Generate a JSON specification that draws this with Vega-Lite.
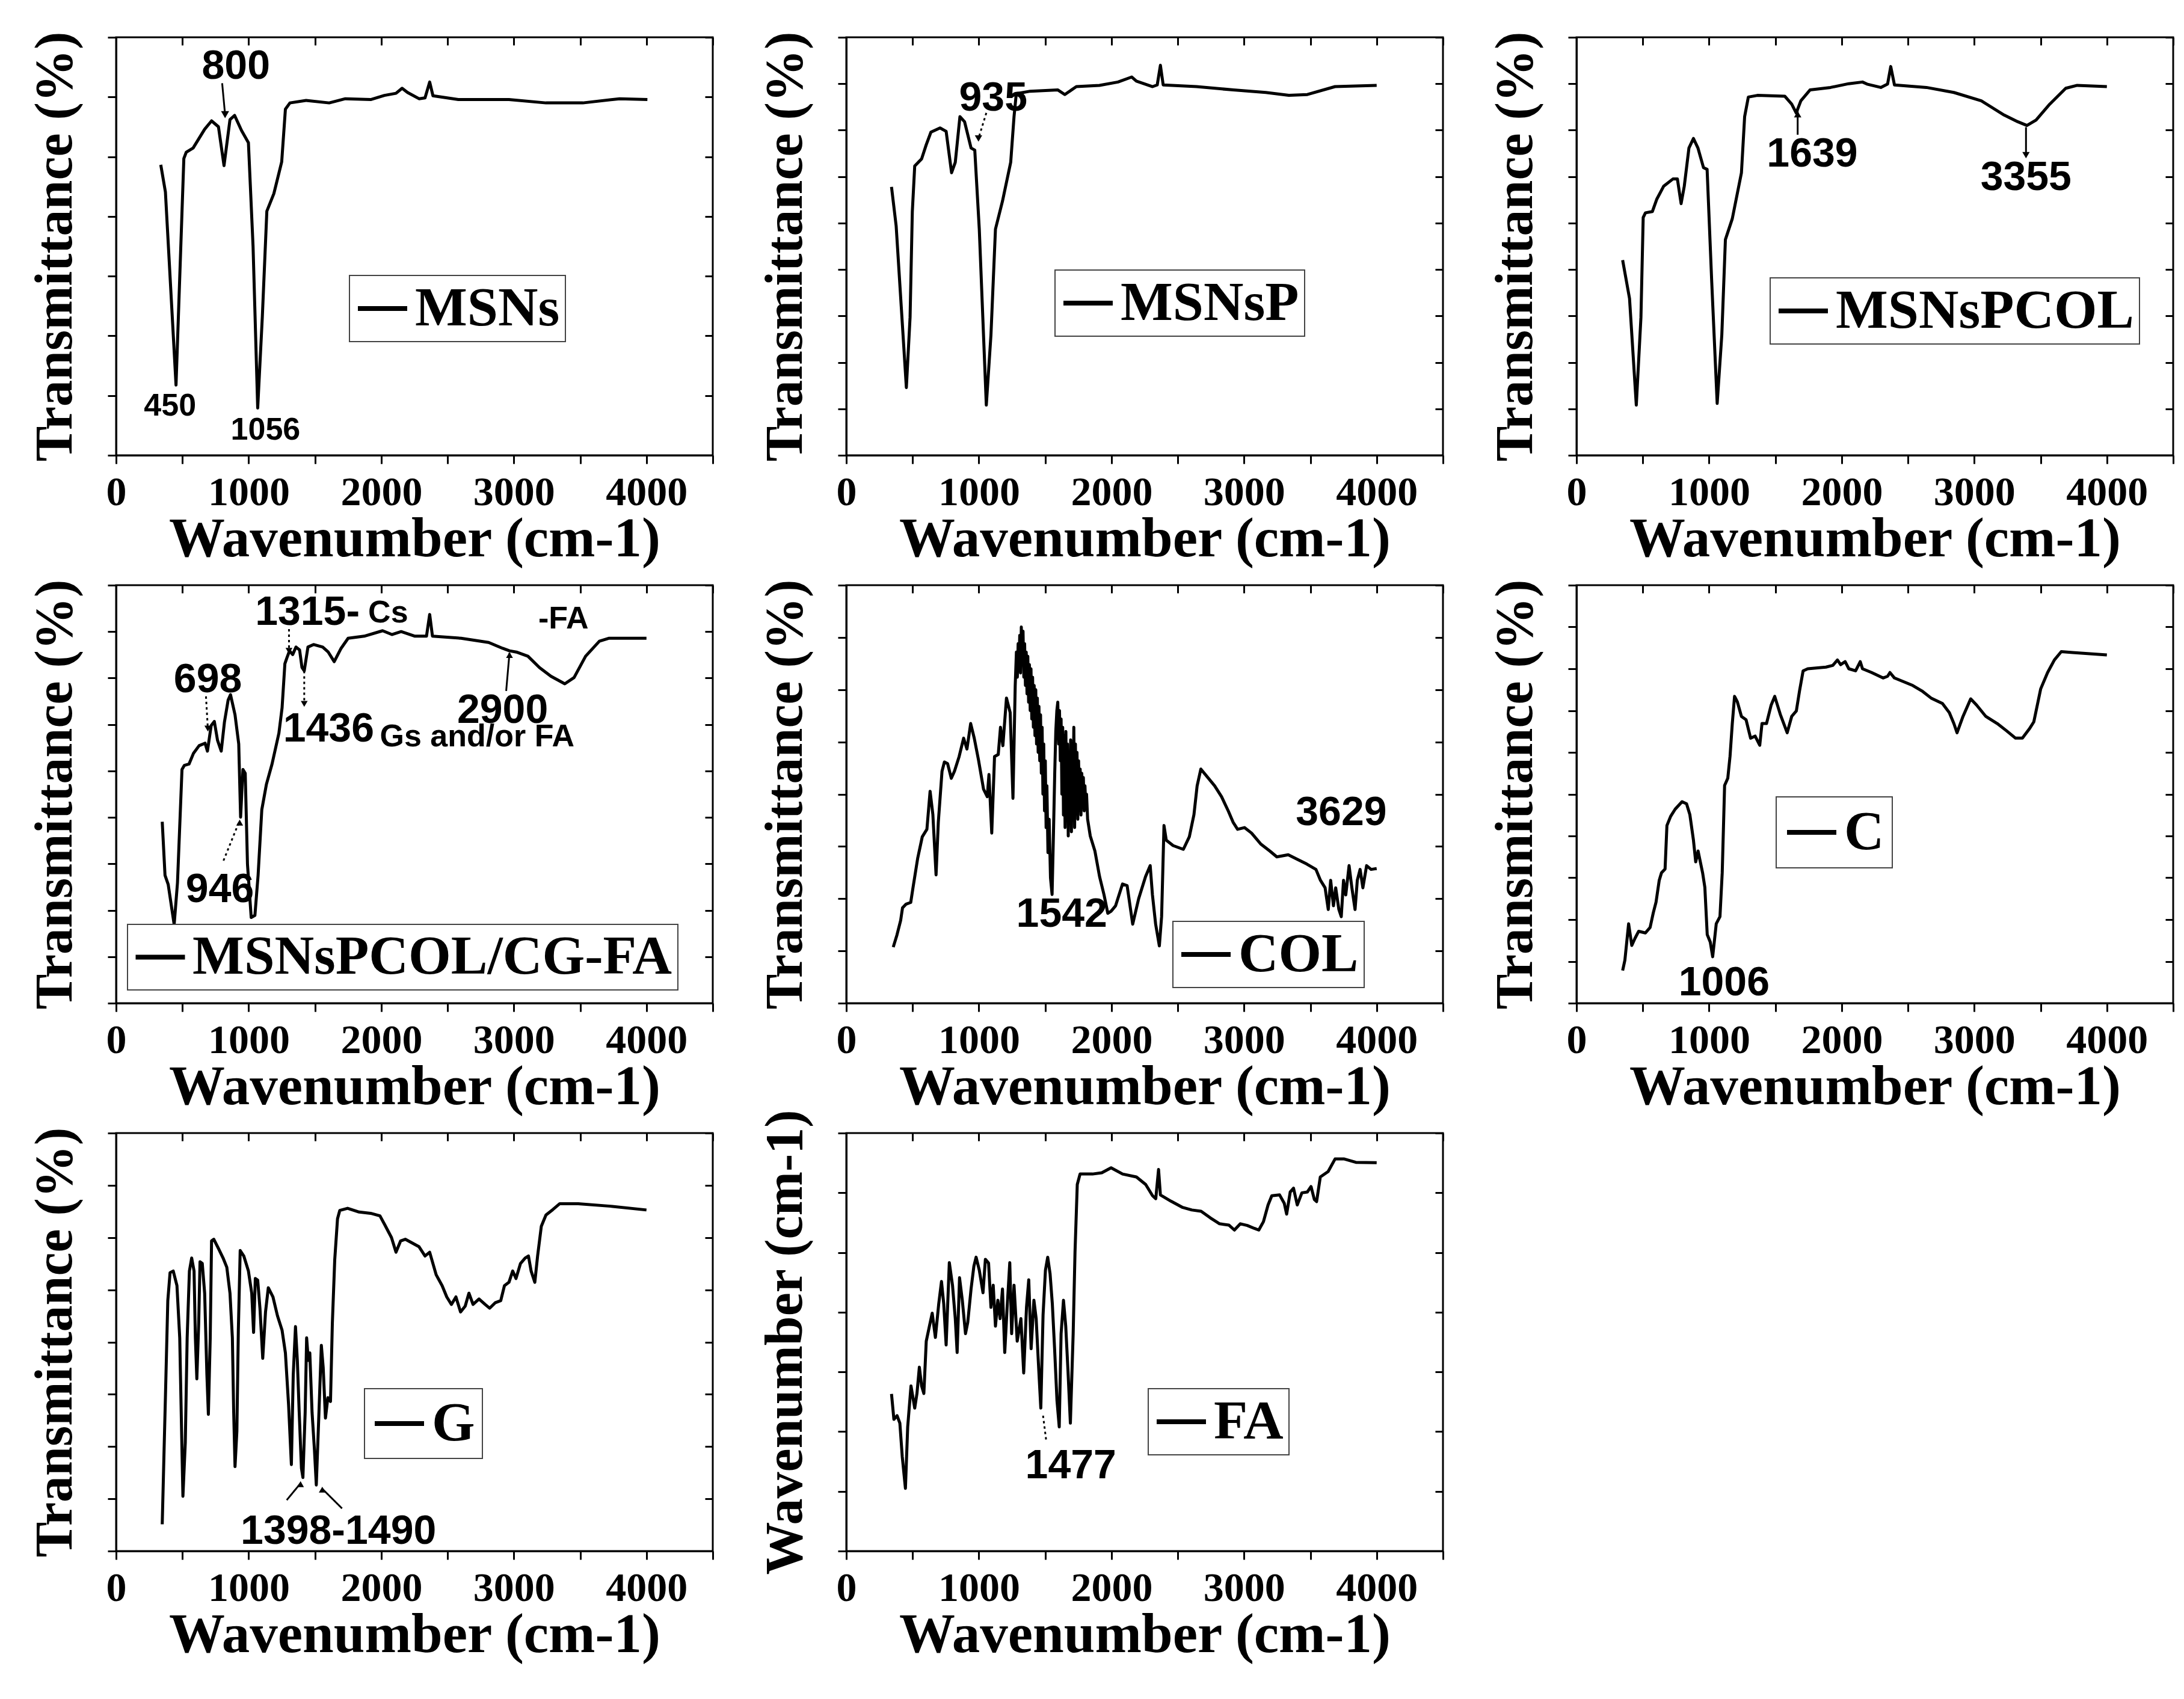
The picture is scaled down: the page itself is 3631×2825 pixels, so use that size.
{
"$schema": "https://vega.github.io/schema/vega-lite/v6.json",
"background": "white",
"padding": {"left": 47, "top": 50, "right": 10, "bottom": 10},
"config": {
 "view": {"stroke": "black", "strokeWidth": 3},
 "axis": {"grid": false, "domainColor": "black", "domainWidth": 3, "tickColor": "black", "tickWidth": 3, "labelFont": "Liberation Serif", "labelFontWeight": "bold", "labelColor": "black", "labelFlush": false, "titleFont": "Liberation Serif", "titleFontWeight": "bold", "titleColor": "black"},
 "axisBottom": {"tickSize": 14, "labelFontSize": 68, "labelPadding": 14, "titleFontSize": 93, "titlePadding": -2},
 "axisLeft": {"tickSize": 14, "labels": false, "titleFontSize": 88, "titlePadding": 41},
 "axisTop": {"tickSize": -13, "labels": false, "domain": false},
 "axisRight": {"tickSize": -13, "labels": false, "domain": false},
 "legend": {"orient": "none", "symbolType": "stroke", "symbolSize": 6724, "symbolStrokeWidth": 8, "labelFont": "Liberation Serif", "labelFontWeight": "bold", "labelFontSize": 92, "labelColor": "black", "labelLimit": 3000, "labelOffset": 8, "padding": 9, "strokeColor": "#444444", "strokeWidth": 2, "fillColor": "white"}
},
"datasets": {
 "MSNs": [{"x":337,"y":69.5},{"x":372,"y":63},{"x":452,"y":16.8},{"x":511,"y":71},{"x":529,"y":72.5},{"x":581,"y":73.5},{"x":668,"y":78},{"x":720,"y":80},{"x":772,"y":78.6},{"x":814,"y":69.3},{"x":859,"y":80.3},{"x":894,"y":81.3},{"x":946,"y":77.7},{"x":998,"y":74.8},{"x":1033,"y":50},{"x":1068,"y":11.3},{"x":1103,"y":33.2},{"x":1137,"y":58.4},{"x":1190,"y":62.6},{"x":1249,"y":70.2},{"x":1277,"y":82.8},{"x":1311,"y":84.3},{"x":1433,"y":84.9},{"x":1607,"y":84.3},{"x":1729,"y":85.3},{"x":1920,"y":85.1},{"x":2024,"y":86.1},{"x":2111,"y":86.6},{"x":2157,"y":87.8},{"x":2198,"y":86.8},{"x":2285,"y":85.3},{"x":2330,"y":85.5},{"x":2365,"y":89.3},{"x":2390,"y":86},{"x":2581,"y":85.1},{"x":2963,"y":85.1},{"x":3242,"y":84.3},{"x":3520,"y":84.3},{"x":3798,"y":85.3},{"x":4007,"y":85.1}],
 "MSNsP": [{"x":341,"y":64.2},{"x":376,"y":54.9},{"x":453,"y":16.2},{"x":481,"y":33},{"x":498,"y":58.3},{"x":516,"y":69.2},{"x":568,"y":70.9},{"x":603,"y":74.3},{"x":638,"y":77.3},{"x":707,"y":78.3},{"x":753,"y":77.5},{"x":794,"y":67.6},{"x":822,"y":70.1},{"x":857,"y":81},{"x":892,"y":79.8},{"x":941,"y":73.5},{"x":969,"y":73},{"x":1003,"y":54.1},{"x":1056,"y":12},{"x":1091,"y":28.8},{"x":1125,"y":54.1},{"x":1178,"y":60.8},{"x":1240,"y":70.1},{"x":1265,"y":81},{"x":1282,"y":86.5},{"x":1387,"y":87.1},{"x":1596,"y":87.4},{"x":1648,"y":86.3},{"x":1735,"y":88.2},{"x":1909,"y":88.5},{"x":2049,"y":89.3},{"x":2153,"y":90.5},{"x":2188,"y":89.5},{"x":2310,"y":88.2},{"x":2345,"y":88.6},{"x":2369,"y":93.3},{"x":2390,"y":88.6},{"x":2641,"y":88.2},{"x":2920,"y":87.4},{"x":3164,"y":86.8},{"x":3338,"y":86.1},{"x":3477,"y":86.3},{"x":3686,"y":88.2},{"x":4000,"y":88.5}],
 "MSNsPCOL": [{"x":348,"y":46.7},{"x":400,"y":37.5},{"x":451,"y":12},{"x":486,"y":33},{"x":503,"y":56.9},{"x":520,"y":58},{"x":572,"y":58.3},{"x":606,"y":61.3},{"x":658,"y":64.4},{"x":727,"y":66.1},{"x":761,"y":66.1},{"x":789,"y":60.2},{"x":813,"y":64.4},{"x":848,"y":73.5},{"x":882,"y":75.8},{"x":916,"y":73.5},{"x":958,"y":68.8},{"x":985,"y":68.4},{"x":1020,"y":41.4},{"x":1061,"y":12.4},{"x":1096,"y":28.8},{"x":1123,"y":51.6},{"x":1175,"y":56.6},{"x":1244,"y":67.6},{"x":1268,"y":81},{"x":1296,"y":85.7},{"x":1364,"y":86.1},{"x":1571,"y":85.9},{"x":1623,"y":84},{"x":1657,"y":81.9},{"x":1692,"y":84.8},{"x":1761,"y":87.4},{"x":1916,"y":88},{"x":2053,"y":88.9},{"x":2157,"y":89.3},{"x":2191,"y":88.8},{"x":2295,"y":88},{"x":2346,"y":88.8},{"x":2370,"y":93},{"x":2398,"y":88.6},{"x":2639,"y":88},{"x":2846,"y":86.8},{"x":3053,"y":84.8},{"x":3225,"y":81.4},{"x":3328,"y":79.8},{"x":3397,"y":78.9},{"x":3466,"y":80.2},{"x":3569,"y":84},{"x":3690,"y":87.8},{"x":3776,"y":88.5},{"x":4000,"y":88.2}],
 "MSNsPCOLCGFA": [{"x":348,"y":43.4},{"x":369,"y":30.6},{"x":393,"y":28.4},{"x":438,"y":18.8},{"x":463,"y":28.8},{"x":497,"y":55.9},{"x":515,"y":56.9},{"x":550,"y":57.2},{"x":584,"y":59.8},{"x":626,"y":61.6},{"x":671,"y":62.2},{"x":689,"y":60.3},{"x":717,"y":66.4},{"x":741,"y":67.4},{"x":765,"y":62.9},{"x":793,"y":60.3},{"x":817,"y":67.2},{"x":845,"y":72.5},{"x":863,"y":73.8},{"x":897,"y":69},{"x":925,"y":62},{"x":939,"y":44.5},{"x":957,"y":55.9},{"x":974,"y":55},{"x":991,"y":33.2},{"x":1019,"y":20.5},{"x":1047,"y":21},{"x":1071,"y":30.6},{"x":1099,"y":46.3},{"x":1134,"y":52.4},{"x":1176,"y":57.2},{"x":1228,"y":64.6},{"x":1252,"y":70.7},{"x":1273,"y":81.2},{"x":1287,"y":82.5},{"x":1308,"y":84.3},{"x":1332,"y":83.4},{"x":1357,"y":85.2},{"x":1384,"y":84.5},{"x":1402,"y":80.3},{"x":1419,"y":79.5},{"x":1447,"y":85.2},{"x":1489,"y":85.8},{"x":1558,"y":85.2},{"x":1600,"y":84},{"x":1645,"y":81.7},{"x":1697,"y":84.9},{"x":1750,"y":87.3},{"x":1871,"y":87.8},{"x":2010,"y":89.1},{"x":2080,"y":88.2},{"x":2150,"y":88.9},{"x":2254,"y":87.8},{"x":2341,"y":87.8},{"x":2365,"y":93},{"x":2386,"y":87.8},{"x":2602,"y":87.3},{"x":2810,"y":86.3},{"x":2915,"y":84.9},{"x":2967,"y":84.3},{"x":3019,"y":84},{"x":3106,"y":83},{"x":3193,"y":80.3},{"x":3280,"y":78.2},{"x":3384,"y":76.4},{"x":3454,"y":77.9},{"x":3541,"y":83},{"x":3645,"y":86.6},{"x":3715,"y":87.3},{"x":4000,"y":87.3}],
 "COL": [{"x":354,"y":13.4},{"x":382,"y":16.3},{"x":410,"y":19.8},{"x":424,"y":22.8},{"x":451,"y":23.7},{"x":486,"y":24.1},{"x":503,"y":27.6},{"x":538,"y":34.6},{"x":573,"y":39.8},{"x":608,"y":41.6},{"x":632,"y":50.7},{"x":653,"y":45.1},{"x":677,"y":30.7},{"x":694,"y":43.3},{"x":722,"y":55.5},{"x":740,"y":57.7},{"x":764,"y":57.3},{"x":792,"y":53.8},{"x":816,"y":55.5},{"x":851,"y":59},{"x":885,"y":63.4},{"x":910,"y":60.8},{"x":938,"y":66.9},{"x":965,"y":63.4},{"x":997,"y":58.2},{"x":1035,"y":51.2},{"x":1063,"y":49.4},{"x":1076,"y":54.7},{"x":1097,"y":40.7},{"x":1118,"y":59},{"x":1146,"y":59.5},{"x":1163,"y":66},{"x":1181,"y":61.6},{"x":1208,"y":73},{"x":1236,"y":69.5},{"x":1257,"y":49},{"x":1274,"y":76},{"x":1283,"y":84},{"x":1290,"y":78},{"x":1296,"y":86},{"x":1302,"y":80},{"x":1308,"y":88},{"x":1314,"y":79},{"x":1320,"y":90},{"x":1326,"y":81},{"x":1333,"y":89},{"x":1339,"y":78},{"x":1345,"y":86},{"x":1351,"y":76},{"x":1357,"y":84},{"x":1363,"y":74},{"x":1369,"y":83},{"x":1375,"y":72},{"x":1381,"y":81},{"x":1387,"y":70},{"x":1393,"y":80},{"x":1399,"y":68},{"x":1405,"y":78},{"x":1411,"y":66},{"x":1417,"y":76},{"x":1423,"y":64},{"x":1429,"y":75},{"x":1435,"y":62},{"x":1441,"y":73},{"x":1447,"y":60},{"x":1453,"y":71},{"x":1459,"y":58},{"x":1465,"y":69},{"x":1471,"y":55},{"x":1477,"y":66},{"x":1483,"y":50},{"x":1489,"y":62},{"x":1495,"y":46},{"x":1501,"y":58},{"x":1507,"y":42},{"x":1513,"y":52},{"x":1521,"y":36},{"x":1530,"y":44},{"x":1540,"y":30},{"x":1552,"y":26},{"x":1562,"y":40},{"x":1572,"y":55},{"x":1580,"y":65},{"x":1588,"y":70},{"x":1595,"y":72},{"x":1602,"y":62},{"x":1608,"y":70},{"x":1614,"y":58},{"x":1620,"y":68},{"x":1626,"y":50},{"x":1632,"y":66},{"x":1638,"y":45},{"x":1644,"y":64},{"x":1650,"y":42},{"x":1656,"y":65},{"x":1662,"y":48},{"x":1668,"y":62},{"x":1674,"y":40},{"x":1680,"y":60},{"x":1686,"y":44},{"x":1692,"y":63},{"x":1698,"y":41},{"x":1704,"y":61},{"x":1710,"y":46},{"x":1716,"y":66},{"x":1722,"y":42},{"x":1728,"y":62},{"x":1734,"y":48},{"x":1740,"y":60},{"x":1746,"y":44},{"x":1752,"y":58},{"x":1758,"y":47},{"x":1764,"y":56},{"x":1770,"y":45},{"x":1776,"y":55},{"x":1782,"y":48},{"x":1788,"y":54},{"x":1794,"y":46},{"x":1800,"y":52},{"x":1806,"y":47},{"x":1812,"y":50},{"x":1820,"y":44},{"x":1830,"y":42},{"x":1840,"y":40},{"x":1875,"y":36.4},{"x":1910,"y":30.3},{"x":1944,"y":25.9},{"x":1972,"y":21.5},{"x":1997,"y":22},{"x":2031,"y":23.3},{"x":2083,"y":28.5},{"x":2118,"y":28.1},{"x":2160,"y":18.9},{"x":2205,"y":25},{"x":2257,"y":30.3},{"x":2292,"y":32.9},{"x":2309,"y":25.9},{"x":2333,"y":18.9},{"x":2361,"y":13.7},{"x":2378,"y":20.7},{"x":2396,"y":42.5},{"x":2413,"y":39},{"x":2465,"y":37.7},{"x":2542,"y":36.8},{"x":2587,"y":39.8},{"x":2622,"y":45.1},{"x":2646,"y":52},{"x":2674,"y":56},{"x":2708,"y":54.7},{"x":2778,"y":52},{"x":2830,"y":49.4},{"x":2882,"y":45.9},{"x":2917,"y":43.3},{"x":2951,"y":41.6},{"x":3003,"y":42},{"x":3056,"y":40.7},{"x":3125,"y":38.1},{"x":3194,"y":36.4},{"x":3247,"y":35},{"x":3333,"y":35.5},{"x":3403,"y":34.4},{"x":3472,"y":33.3},{"x":3542,"y":32},{"x":3576,"y":29.4},{"x":3611,"y":27.6},{"x":3635,"y":22.4},{"x":3653,"y":29.4},{"x":3674,"y":23.3},{"x":3691,"y":27.6},{"x":3715,"y":22.4},{"x":3733,"y":20.7},{"x":3750,"y":29.4},{"x":3767,"y":25.9},{"x":3792,"y":32.9},{"x":3813,"y":27.6},{"x":3837,"y":22.4},{"x":3854,"y":29.4},{"x":3875,"y":32},{"x":3896,"y":27.6},{"x":3924,"y":32.9},{"x":3958,"y":32},{"x":4000,"y":32.2}],
 "C": [{"x":348,"y":7.8},{"x":365,"y":10.3},{"x":393,"y":19},{"x":417,"y":13.8},{"x":441,"y":15.5},{"x":469,"y":17.2},{"x":520,"y":16.8},{"x":555,"y":18.1},{"x":579,"y":21.6},{"x":600,"y":24.2},{"x":624,"y":29.4},{"x":641,"y":31.2},{"x":668,"y":32.1},{"x":682,"y":42.5},{"x":710,"y":44.7},{"x":744,"y":46.4},{"x":796,"y":48.2},{"x":830,"y":47.7},{"x":855,"y":45.1},{"x":882,"y":39},{"x":899,"y":33.8},{"x":917,"y":36.4},{"x":951,"y":31.2},{"x":968,"y":27.7},{"x":986,"y":16.4},{"x":1009,"y":14.6},{"x":1027,"y":11.1},{"x":1054,"y":19},{"x":1082,"y":20.7},{"x":1099,"y":31.2},{"x":1117,"y":52.1},{"x":1141,"y":53.8},{"x":1158,"y":59.1},{"x":1175,"y":66.9},{"x":1192,"y":73.4},{"x":1213,"y":72.1},{"x":1244,"y":68.6},{"x":1279,"y":67.8},{"x":1313,"y":63.4},{"x":1347,"y":63.9},{"x":1382,"y":61.7},{"x":1399,"y":66.9},{"x":1433,"y":66.9},{"x":1468,"y":71.3},{"x":1495,"y":73.4},{"x":1537,"y":69.1},{"x":1589,"y":64.7},{"x":1623,"y":68.6},{"x":1658,"y":69.9},{"x":1682,"y":74.7},{"x":1709,"y":79.5},{"x":1744,"y":80},{"x":1881,"y":80.4},{"x":1933,"y":80.8},{"x":1968,"y":82.1},{"x":1992,"y":81},{"x":2026,"y":81.7},{"x":2054,"y":80},{"x":2105,"y":79.5},{"x":2140,"y":81.7},{"x":2157,"y":80},{"x":2226,"y":79.1},{"x":2312,"y":77.8},{"x":2346,"y":78.2},{"x":2364,"y":79.1},{"x":2398,"y":77.8},{"x":2536,"y":76},{"x":2605,"y":74.7},{"x":2674,"y":73},{"x":2760,"y":71.7},{"x":2812,"y":69.5},{"x":2846,"y":66.9},{"x":2870,"y":64.7},{"x":2915,"y":68.6},{"x":2973,"y":72.8},{"x":3018,"y":71.3},{"x":3087,"y":68.6},{"x":3173,"y":66.9},{"x":3242,"y":65.2},{"x":3311,"y":63.4},{"x":3363,"y":63.4},{"x":3415,"y":65.6},{"x":3449,"y":67.3},{"x":3501,"y":75.2},{"x":3553,"y":79.1},{"x":3604,"y":82.1},{"x":3656,"y":84.1},{"x":3742,"y":83.9},{"x":4000,"y":83.3}],
 "G": [{"x":348,"y":6.4},{"x":362,"y":24.2},{"x":372,"y":36.7},{"x":390,"y":59.9},{"x":407,"y":66.6},{"x":431,"y":67},{"x":459,"y":63.5},{"x":480,"y":51},{"x":494,"y":28.7},{"x":504,"y":13.1},{"x":522,"y":26},{"x":536,"y":51},{"x":553,"y":67},{"x":570,"y":70.1},{"x":588,"y":67},{"x":598,"y":51},{"x":609,"y":41.2},{"x":623,"y":54.5},{"x":633,"y":69.2},{"x":650,"y":68.8},{"x":668,"y":61.7},{"x":685,"y":42.1},{"x":696,"y":32.7},{"x":710,"y":51},{"x":720,"y":74.2},{"x":737,"y":74.6},{"x":772,"y":72.4},{"x":807,"y":70.1},{"x":835,"y":67.9},{"x":859,"y":61.7},{"x":877,"y":51},{"x":887,"y":33.2},{"x":897,"y":20.2},{"x":911,"y":28.7},{"x":922,"y":52.8},{"x":936,"y":71.9},{"x":963,"y":70.6},{"x":998,"y":67},{"x":1023,"y":61.7},{"x":1037,"y":52.3},{"x":1050,"y":65.2},{"x":1068,"y":64.8},{"x":1085,"y":58.1},{"x":1106,"y":46.1},{"x":1127,"y":57.2},{"x":1148,"y":63},{"x":1183,"y":60.8},{"x":1217,"y":56.3},{"x":1252,"y":52.8},{"x":1277,"y":47.4},{"x":1301,"y":34.9},{"x":1322,"y":20.7},{"x":1336,"y":42.1},{"x":1353,"y":53.7},{"x":1367,"y":45.6},{"x":1381,"y":33.2},{"x":1398,"y":19.8},{"x":1409,"y":17.6},{"x":1426,"y":33.2},{"x":1437,"y":51},{"x":1450,"y":45.6},{"x":1461,"y":47.4},{"x":1478,"y":33.2},{"x":1496,"y":24.2},{"x":1510,"y":15.8},{"x":1530,"y":33.2},{"x":1548,"y":49.2},{"x":1562,"y":43.9},{"x":1579,"y":31.8},{"x":1597,"y":36.7},{"x":1617,"y":35.8},{"x":1631,"y":54.5},{"x":1649,"y":69.7},{"x":1670,"y":79.5},{"x":1687,"y":81.5},{"x":1746,"y":82},{"x":1833,"y":81.1},{"x":1920,"y":80.8},{"x":1990,"y":80.2},{"x":2024,"y":78.2},{"x":2077,"y":75},{"x":2111,"y":71.5},{"x":2146,"y":74.2},{"x":2181,"y":74.6},{"x":2233,"y":73.7},{"x":2285,"y":72.8},{"x":2330,"y":70.6},{"x":2365,"y":71.5},{"x":2414,"y":66.1},{"x":2459,"y":63.5},{"x":2494,"y":60.8},{"x":2529,"y":59},{"x":2563,"y":60.8},{"x":2598,"y":57.2},{"x":2633,"y":58.6},{"x":2661,"y":61.7},{"x":2692,"y":59},{"x":2737,"y":60.3},{"x":2783,"y":59},{"x":2817,"y":58.1},{"x":2859,"y":59.4},{"x":2901,"y":59.9},{"x":2929,"y":63.5},{"x":2963,"y":64.3},{"x":2991,"y":67},{"x":3016,"y":65.2},{"x":3050,"y":68.8},{"x":3085,"y":70.1},{"x":3110,"y":70.6},{"x":3130,"y":67},{"x":3158,"y":64.3},{"x":3179,"y":70.6},{"x":3207,"y":77.7},{"x":3242,"y":80.4},{"x":3294,"y":81.7},{"x":3346,"y":83.1},{"x":3485,"y":83.1},{"x":3729,"y":82.5},{"x":4000,"y":81.6}],
 "FA": [{"x":341,"y":37.6},{"x":359,"y":31.5},{"x":383,"y":32.4},{"x":404,"y":30.6},{"x":422,"y":22.6},{"x":446,"y":15},{"x":463,"y":29.7},{"x":488,"y":39.5},{"x":516,"y":34.2},{"x":533,"y":37.7},{"x":551,"y":44},{"x":568,"y":39.5},{"x":585,"y":37.7},{"x":603,"y":50.2},{"x":627,"y":53.8},{"x":648,"y":56.9},{"x":672,"y":51.1},{"x":697,"y":59.1},{"x":718,"y":64.5},{"x":735,"y":59.1},{"x":753,"y":49.3},{"x":777,"y":69},{"x":801,"y":63.6},{"x":822,"y":55.6},{"x":836,"y":47.5},{"x":854,"y":65.4},{"x":875,"y":60},{"x":899,"y":52},{"x":916,"y":54.7},{"x":941,"y":62.7},{"x":962,"y":68.1},{"x":979,"y":70.3},{"x":1003,"y":67.2},{"x":1031,"y":61.8},{"x":1049,"y":69.8},{"x":1073,"y":68.9},{"x":1091,"y":58.3},{"x":1108,"y":63.6},{"x":1125,"y":53.8},{"x":1143,"y":60},{"x":1160,"y":55.6},{"x":1178,"y":62.7},{"x":1195,"y":47.5},{"x":1213,"y":58.3},{"x":1233,"y":69},{"x":1247,"y":52},{"x":1265,"y":63.6},{"x":1289,"y":50.2},{"x":1317,"y":55.6},{"x":1338,"y":42.6},{"x":1359,"y":58.3},{"x":1376,"y":64.9},{"x":1394,"y":48.4},{"x":1415,"y":60},{"x":1432,"y":55.6},{"x":1449,"y":44.9},{"x":1467,"y":34.2},{"x":1484,"y":56.5},{"x":1502,"y":67.2},{"x":1519,"y":70.3},{"x":1537,"y":66.3},{"x":1554,"y":59.1},{"x":1571,"y":48.4},{"x":1589,"y":36},{"x":1606,"y":29.7},{"x":1620,"y":52},{"x":1638,"y":60},{"x":1655,"y":53.8},{"x":1672,"y":43.1},{"x":1690,"y":30.6},{"x":1711,"y":52},{"x":1725,"y":71.6},{"x":1742,"y":87.7},{"x":1763,"y":90.2},{"x":1857,"y":90.2},{"x":1927,"y":90.5},{"x":1997,"y":91.7},{"x":2084,"y":90.2},{"x":2188,"y":89.5},{"x":2258,"y":87.7},{"x":2310,"y":85},{"x":2334,"y":84.3},{"x":2355,"y":91.3},{"x":2369,"y":85.2},{"x":2449,"y":83.7},{"x":2537,"y":82.2},{"x":2606,"y":81.6},{"x":2676,"y":81.3},{"x":2746,"y":79.7},{"x":2815,"y":78.3},{"x":2885,"y":78},{"x":2927,"y":76.8},{"x":2972,"y":78.3},{"x":3024,"y":77.9},{"x":3077,"y":77.2},{"x":3111,"y":76.8},{"x":3146,"y":78.8},{"x":3181,"y":82.8},{"x":3209,"y":85},{"x":3268,"y":85.2},{"x":3303,"y":83.2},{"x":3321,"y":80.6},{"x":3348,"y":85.9},{"x":3373,"y":86.8},{"x":3401,"y":82.8},{"x":3436,"y":85.7},{"x":3477,"y":85.9},{"x":3505,"y":87.2},{"x":3530,"y":84.1},{"x":3547,"y":83.6},{"x":3575,"y":89.5},{"x":3634,"y":90.8},{"x":3686,"y":93.8},{"x":3756,"y":93.8},{"x":3843,"y":93},{"x":4000,"y":92.9}]
},
"concat": [
   {"width": 992, "height": 695, "layer": [
    {"data": {"name": "MSNs"}, "mark": {"type": "line", "strokeWidth": 5, "strokeJoin": "round"},
     "encoding": {
      "x": {"field": "x", "type": "quantitative", "scale": {"domain": [0, 4500], "nice": false}, "axis": {"values": [0,500,1000,1500,2000,2500,3000,3500,4000,4500], "labelExpr": "datum.value % 1000 === 0 ? datum.label : ''", "format": "d", "title": "Wavenumber (cm-1)"}},
      "y": {"field": "y", "type": "quantitative", "scale": {"domain": [0, 100], "nice": false}, "axis": {"values": [0,14.286,28.571,42.857,57.143,71.429,85.714,100], "title": "Transmittance (%)"}},
      "color": {"datum": "MSNs", "scale": {"range": ["black"]}, "legend": {"title": null, "legendX": 388, "legendY": 396}}}},
    {"data": {"values": [{"x":904,"y":92.9,"t":"800","k":"big"},{"x":407,"y":11.8,"t":"450","k":"small"},{"x":1127,"y":6.1,"t":"1056","k":"small"}]},
     "mark": {"type": "text", "font": "Liberation Sans", "fontWeight": "bold", "color": "black"},
     "encoding": {
      "x": {"field": "x", "type": "quantitative", "axis": {"orient": "top", "values": [0,500,1000,1500,2000,2500,3000,3500,4000,4500], "title": null}},
      "y": {"field": "y", "type": "quantitative", "axis": {"orient": "right", "values": [0,14.286,28.571,42.857,57.143,71.429,85.714,100], "title": null}},
      "text": {"field": "t"},
      "size": {"field": "k", "type": "nominal", "scale": {"domain": ["big","small"], "range": [68, 52]}, "legend": null}}},
    {"data": {"values": [{"x":800,"y":89,"x2":822,"y2":81.5,"d":"solid"}]},
     "mark": {"type": "rule", "color": "black", "strokeWidth": 3},
     "encoding": {"x": {"field": "x", "type": "quantitative", "axis": null}, "y": {"field": "y", "type": "quantitative", "axis": null}, "x2": {"field": "x2"}, "y2": {"field": "y2"},
      "strokeDash": {"field": "d", "type": "nominal", "scale": {"domain": ["solid","dotted"], "range": [[1,0],[4,5]]}, "legend": null}}},
    {"data": {"values": [{"x":822,"y":81.5,"h":"down"}]},
     "mark": {"type": "point", "filled": true, "color": "black", "size": 180, "opacity": 1},
     "encoding": {"x": {"field": "x", "type": "quantitative", "axis": null}, "y": {"field": "y", "type": "quantitative", "axis": null},
      "shape": {"field": "h", "type": "nominal", "scale": {"domain": ["down","up"], "range": ["triangle-down","triangle-up"]}, "legend": null}}}
   ], "resolve": {"axis": {"x": "independent", "y": "independent"}}},
   {"width": 992, "height": 695, "layer": [
    {"data": {"name": "MSNsP"}, "mark": {"type": "line", "strokeWidth": 5, "strokeJoin": "round"},
     "encoding": {
      "x": {"field": "x", "type": "quantitative", "scale": {"domain": [0, 4500], "nice": false}, "axis": {"values": [0,500,1000,1500,2000,2500,3000,3500,4000,4500], "labelExpr": "datum.value % 1000 === 0 ? datum.label : ''", "format": "d", "title": "Wavenumber (cm-1)"}},
      "y": {"field": "y", "type": "quantitative", "scale": {"domain": [0, 100], "nice": false}, "axis": {"values": [0,11.111,22.222,33.333,44.444,55.556,66.667,77.778,88.889,100], "title": "Transmittance (%)"}},
      "color": {"datum": "MSNsP", "scale": {"range": ["black"]}, "legend": {"title": null, "legendX": 347, "legendY": 387}}}},
    {"data": {"values": [{"x":1108,"y":85.3,"t":"935","k":"big"}]},
     "mark": {"type": "text", "font": "Liberation Sans", "fontWeight": "bold", "color": "black"},
     "encoding": {
      "x": {"field": "x", "type": "quantitative", "axis": {"orient": "top", "values": [0,500,1000,1500,2000,2500,3000,3500,4000,4500], "title": null}},
      "y": {"field": "y", "type": "quantitative", "axis": {"orient": "right", "values": [0,11.111,22.222,33.333,44.444,55.556,66.667,77.778,88.889,100], "title": null}},
      "text": {"field": "t"},
      "size": {"field": "k", "type": "nominal", "scale": {"domain": ["big","small"], "range": [68, 52]}, "legend": null}}},
    {"data": {"values": [{"x":1056,"y":81.9,"x2":997,"y2":75.8,"d":"dotted"}]},
     "mark": {"type": "rule", "color": "black", "strokeWidth": 3},
     "encoding": {"x": {"field": "x", "type": "quantitative", "axis": null}, "y": {"field": "y", "type": "quantitative", "axis": null}, "x2": {"field": "x2"}, "y2": {"field": "y2"},
      "strokeDash": {"field": "d", "type": "nominal", "scale": {"domain": ["solid","dotted"], "range": [[1,0],[4,5]]}, "legend": null}}},
    {"data": {"values": [{"x":997,"y":75.8,"h":"down"}]},
     "mark": {"type": "point", "filled": true, "color": "black", "size": 150, "opacity": 1},
     "encoding": {"x": {"field": "x", "type": "quantitative", "axis": null}, "y": {"field": "y", "type": "quantitative", "axis": null},
      "shape": {"field": "h", "type": "nominal", "scale": {"domain": ["down","up"], "range": ["triangle-down","triangle-up"]}, "legend": null}}}
   ], "resolve": {"axis": {"x": "independent", "y": "independent"}}},
   {"width": 992, "height": 695, "layer": [
    {"data": {"name": "MSNsPCOL"}, "mark": {"type": "line", "strokeWidth": 5, "strokeJoin": "round"},
     "encoding": {
      "x": {"field": "x", "type": "quantitative", "scale": {"domain": [0, 4500], "nice": false}, "axis": {"values": [0,500,1000,1500,2000,2500,3000,3500,4000,4500], "labelExpr": "datum.value % 1000 === 0 ? datum.label : ''", "format": "d", "title": "Wavenumber (cm-1)"}},
      "y": {"field": "y", "type": "quantitative", "scale": {"domain": [0, 100], "nice": false}, "axis": {"values": [0,11.111,22.222,33.333,44.444,55.556,66.667,77.778,88.889,100], "title": "Transmittance (%)"}},
      "color": {"datum": "MSNsPCOL", "scale": {"range": ["black"]}, "legend": {"title": null, "legendX": 322, "legendY": 400}}}},
    {"data": {"values": [{"x":1778,"y":72.0,"t":"1639","k":"big"},{"x":3390,"y":66.3,"t":"3355","k":"big"}]},
     "mark": {"type": "text", "font": "Liberation Sans", "fontWeight": "bold", "color": "black"},
     "encoding": {
      "x": {"field": "x", "type": "quantitative", "axis": {"orient": "top", "values": [0,500,1000,1500,2000,2500,3000,3500,4000,4500], "title": null}},
      "y": {"field": "y", "type": "quantitative", "axis": {"orient": "right", "values": [0,11.111,22.222,33.333,44.444,55.556,66.667,77.778,88.889,100], "title": null}},
      "text": {"field": "t"},
      "size": {"field": "k", "type": "nominal", "scale": {"domain": ["big","small"], "range": [68, 52]}, "legend": null}}},
    {"data": {"values": [{"x":1668,"y":76.7,"x2":1668,"y2":82.4,"d":"solid"},{"x":3390,"y":78.5,"x2":3390,"y2":71.8,"d":"solid"}]},
     "mark": {"type": "rule", "color": "black", "strokeWidth": 3},
     "encoding": {"x": {"field": "x", "type": "quantitative", "axis": null}, "y": {"field": "y", "type": "quantitative", "axis": null}, "x2": {"field": "x2"}, "y2": {"field": "y2"},
      "strokeDash": {"field": "d", "type": "nominal", "scale": {"domain": ["solid","dotted"], "range": [[1,0],[4,5]]}, "legend": null}}},
    {"data": {"values": [{"x":1668,"y":81.6,"h":"up"},{"x":3390,"y":71.8,"h":"down"}]},
     "mark": {"type": "point", "filled": true, "color": "black", "size": 150, "opacity": 1},
     "encoding": {"x": {"field": "x", "type": "quantitative", "axis": null}, "y": {"field": "y", "type": "quantitative", "axis": null},
      "shape": {"field": "h", "type": "nominal", "scale": {"domain": ["down","up"], "range": ["triangle-down","triangle-up"]}, "legend": null}}}
   ], "resolve": {"axis": {"x": "independent", "y": "independent"}}},
   {"width": 992, "height": 695, "layer": [
    {"data": {"name": "MSNsPCOLCGFA"}, "mark": {"type": "line", "strokeWidth": 5, "strokeJoin": "round"},
     "encoding": {
      "x": {"field": "x", "type": "quantitative", "scale": {"domain": [0, 4500], "nice": false}, "axis": {"values": [0,500,1000,1500,2000,2500,3000,3500,4000,4500], "labelExpr": "datum.value % 1000 === 0 ? datum.label : ''", "format": "d", "title": "Wavenumber (cm-1)"}},
      "y": {"field": "y", "type": "quantitative", "scale": {"domain": [0, 100], "nice": false}, "axis": {"values": [0,11.111,22.222,33.333,44.444,55.556,66.667,77.778,88.889,100], "title": "Transmittance (%)"}},
      "color": {"datum": "MSNsPCOL/CG-FA", "scale": {"range": ["black"]}, "legend": {"title": null, "legendX": 19, "legendY": 564, "labelFontSize": 91}}}},
    {"data": {"values": [{"x":692,"y":77.3,"t":"698","k":"big"},{"x":1443,"y":93.4,"t":"1315-","k":"big"},{"x":2052,"y":93.4,"t":"Cs","k":"small"},{"x":3374,"y":91.9,"t":"-FA","k":"small"},{"x":1603,"y":65.5,"t":"1436","k":"big"},{"x":2723,"y":63.8,"t":"Gs and/or FA","k":"small"},{"x":2915,"y":70,"t":"2900","k":"big"},{"x":783,"y":27.1,"t":"946","k":"big"}]},
     "mark": {"type": "text", "font": "Liberation Sans", "fontWeight": "bold", "color": "black"},
     "encoding": {
      "x": {"field": "x", "type": "quantitative", "axis": {"orient": "top", "values": [0,500,1000,1500,2000,2500,3000,3500,4000,4500], "title": null}},
      "y": {"field": "y", "type": "quantitative", "axis": {"orient": "right", "values": [0,11.111,22.222,33.333,44.444,55.556,66.667,77.778,88.889,100], "title": null}},
      "text": {"field": "t"},
      "size": {"field": "k", "type": "nominal", "scale": {"domain": ["big","small"], "range": [68, 52]}, "legend": null}}},
    {"data": {"values": [{"x":678,"y":73.4,"x2":692,"y2":65.7,"d":"dotted"},{"x":1304,"y":89.5,"x2":1304,"y2":84.3,"d":"dotted"},{"x":1419,"y":79.5,"x2":1419,"y2":71.6,"d":"dotted"},{"x":2942,"y":74.7,"x2":2967,"y2":83.8,"d":"solid"},{"x":810,"y":34.1,"x2":932,"y2":43.7,"d":"dotted"}]},
     "mark": {"type": "rule", "color": "black", "strokeWidth": 3},
     "encoding": {"x": {"field": "x", "type": "quantitative", "axis": null}, "y": {"field": "y", "type": "quantitative", "axis": null}, "x2": {"field": "x2"}, "y2": {"field": "y2"},
      "strokeDash": {"field": "d", "type": "nominal", "scale": {"domain": ["solid","dotted"], "range": [[1,0],[4,5]]}, "legend": null}}},
    {"data": {"values": [{"x":692,"y":65.7,"h":"down"},{"x":1304,"y":84.3,"h":"down"},{"x":1419,"y":71.6,"h":"down"},{"x":2967,"y":83.3,"h":"up"},{"x":932,"y":43.2,"h":"up"}]},
     "mark": {"type": "point", "filled": true, "color": "black", "size": 130, "opacity": 1},
     "encoding": {"x": {"field": "x", "type": "quantitative", "axis": null}, "y": {"field": "y", "type": "quantitative", "axis": null},
      "shape": {"field": "h", "type": "nominal", "scale": {"domain": ["down","up"], "range": ["triangle-down","triangle-up"]}, "legend": null}}}
   ], "resolve": {"axis": {"x": "independent", "y": "independent"}}},
   {"width": 992, "height": 695, "layer": [
    {"data": {"name": "COL"}, "mark": {"type": "line", "strokeWidth": 5, "strokeJoin": "round"},
     "encoding": {
      "x": {"field": "x", "type": "quantitative", "scale": {"domain": [0, 4500], "nice": false}, "axis": {"values": [0,500,1000,1500,2000,2500,3000,3500,4000,4500], "labelExpr": "datum.value % 1000 === 0 ? datum.label : ''", "format": "d", "title": "Wavenumber (cm-1)"}},
      "y": {"field": "y", "type": "quantitative", "scale": {"domain": [0, 100], "nice": false}, "axis": {"values": [0,12.5,25,37.5,50,62.5,75,87.5,100], "title": "Transmittance (%)"}},
      "color": {"datum": "COL", "scale": {"range": ["black"]}, "legend": {"title": null, "legendX": 543, "legendY": 559}}}},
    {"data": {"values": [{"x":1625,"y":21.1,"t":"1542","k":"big"},{"x":3733,"y":45.5,"t":"3629","k":"big"}]},
     "mark": {"type": "text", "font": "Liberation Sans", "fontWeight": "bold", "color": "black"},
     "encoding": {
      "x": {"field": "x", "type": "quantitative", "axis": {"orient": "top", "values": [0,500,1000,1500,2000,2500,3000,3500,4000,4500], "title": null}},
      "y": {"field": "y", "type": "quantitative", "axis": {"orient": "right", "values": [0,12.5,25,37.5,50,62.5,75,87.5,100], "title": null}},
      "text": {"field": "t"},
      "size": {"field": "k", "type": "nominal", "scale": {"domain": ["big","small"], "range": [68, 52]}, "legend": null}}}
   ], "resolve": {"axis": {"x": "independent", "y": "independent"}}},
   {"width": 992, "height": 695, "layer": [
    {"data": {"name": "C"}, "mark": {"type": "line", "strokeWidth": 5, "strokeJoin": "round"},
     "encoding": {
      "x": {"field": "x", "type": "quantitative", "scale": {"domain": [0, 4500], "nice": false}, "axis": {"values": [0,500,1000,1500,2000,2500,3000,3500,4000,4500], "labelExpr": "datum.value % 1000 === 0 ? datum.label : ''", "format": "d", "title": "Wavenumber (cm-1)"}},
      "y": {"field": "y", "type": "quantitative", "scale": {"domain": [0, 100], "nice": false}, "axis": {"values": [0,10,20,30,40,50,60,70,80,90,100], "title": "Transmittance (%)"}},
      "color": {"datum": "C", "scale": {"range": ["black"]}, "legend": {"title": null, "legendX": 332, "legendY": 352, "padding": 13}}}},
    {"data": {"values": [{"x":1113,"y":4.8,"t":"1006","k":"big"}]},
     "mark": {"type": "text", "font": "Liberation Sans", "fontWeight": "bold", "color": "black"},
     "encoding": {
      "x": {"field": "x", "type": "quantitative", "axis": {"orient": "top", "values": [0,500,1000,1500,2000,2500,3000,3500,4000,4500], "title": null}},
      "y": {"field": "y", "type": "quantitative", "axis": {"orient": "right", "values": [0,10,20,30,40,50,60,70,80,90,100], "title": null}},
      "text": {"field": "t"},
      "size": {"field": "k", "type": "nominal", "scale": {"domain": ["big","small"], "range": [68, 52]}, "legend": null}}}
   ], "resolve": {"axis": {"x": "independent", "y": "independent"}}},
   {"width": 992, "height": 695, "layer": [
    {"data": {"name": "G"}, "mark": {"type": "line", "strokeWidth": 5, "strokeJoin": "round"},
     "encoding": {
      "x": {"field": "x", "type": "quantitative", "scale": {"domain": [0, 4500], "nice": false}, "axis": {"values": [0,500,1000,1500,2000,2500,3000,3500,4000,4500], "labelExpr": "datum.value % 1000 === 0 ? datum.label : ''", "format": "d", "title": "Wavenumber (cm-1)"}},
      "y": {"field": "y", "type": "quantitative", "scale": {"domain": [0, 100], "nice": false}, "axis": {"values": [0,12.5,25,37.5,50,62.5,75,87.5,100], "title": "Transmittance (%)"}},
      "color": {"datum": "G", "scale": {"range": ["black"]}, "legend": {"title": null, "legendX": 413, "legendY": 425, "padding": 12}}}},
    {"data": {"values": [{"x":1677,"y":4.6,"t":"1398-1490","k":"big"}]},
     "mark": {"type": "text", "font": "Liberation Sans", "fontWeight": "bold", "color": "black"},
     "encoding": {
      "x": {"field": "x", "type": "quantitative", "axis": {"orient": "top", "values": [0,500,1000,1500,2000,2500,3000,3500,4000,4500], "title": null}},
      "y": {"field": "y", "type": "quantitative", "axis": {"orient": "right", "values": [0,12.5,25,37.5,50,62.5,75,87.5,100], "title": null}},
      "text": {"field": "t"},
      "size": {"field": "k", "type": "nominal", "scale": {"domain": ["big","small"], "range": [68, 52]}, "legend": null}}},
    {"data": {"values": [{"x":1287,"y":12.2,"x2":1391,"y2":16.2,"d":"solid"},{"x":1704,"y":10.2,"x2":1555,"y2":14.9,"d":"solid"}]},
     "mark": {"type": "rule", "color": "black", "strokeWidth": 3},
     "encoding": {"x": {"field": "x", "type": "quantitative", "axis": null}, "y": {"field": "y", "type": "quantitative", "axis": null}, "x2": {"field": "x2"}, "y2": {"field": "y2"},
      "strokeDash": {"field": "d", "type": "nominal", "scale": {"domain": ["solid","dotted"], "range": [[1,0],[4,5]]}, "legend": null}}},
    {"data": {"values": [{"x":1391,"y":16.0,"h":"up"},{"x":1555,"y":14.7,"h":"up"}]},
     "mark": {"type": "point", "filled": true, "color": "black", "size": 130, "opacity": 1},
     "encoding": {"x": {"field": "x", "type": "quantitative", "axis": null}, "y": {"field": "y", "type": "quantitative", "axis": null},
      "shape": {"field": "h", "type": "nominal", "scale": {"domain": ["down","up"], "range": ["triangle-down","triangle-up"]}, "legend": null}}}
   ], "resolve": {"axis": {"x": "independent", "y": "independent"}}},
   {"width": 992, "height": 695, "layer": [
    {"data": {"name": "FA"}, "mark": {"type": "line", "strokeWidth": 5, "strokeJoin": "round"},
     "encoding": {
      "x": {"field": "x", "type": "quantitative", "scale": {"domain": [0, 4500], "nice": false}, "axis": {"values": [0,500,1000,1500,2000,2500,3000,3500,4000,4500], "labelExpr": "datum.value % 1000 === 0 ? datum.label : ''", "format": "d", "title": "Wavenumber (cm-1)"}},
      "y": {"field": "y", "type": "quantitative", "scale": {"domain": [0, 100], "nice": false}, "axis": {"values": [0,14.286,28.571,42.857,57.143,71.429,85.714,100], "title": "Wavenumber (cm-1)"}},
      "color": {"datum": "FA", "scale": {"range": ["black"]}, "legend": {"title": null, "legendX": 502, "legendY": 425}}}},
    {"data": {"values": [{"x":1693,"y":20.3,"t":"1477","k":"big"}]},
     "mark": {"type": "text", "font": "Liberation Sans", "fontWeight": "bold", "color": "black"},
     "encoding": {
      "x": {"field": "x", "type": "quantitative", "axis": {"orient": "top", "values": [0,500,1000,1500,2000,2500,3000,3500,4000,4500], "title": null}},
      "y": {"field": "y", "type": "quantitative", "axis": {"orient": "right", "values": [0,14.286,28.571,42.857,57.143,71.429,85.714,100], "title": null}},
      "text": {"field": "t"},
      "size": {"field": "k", "type": "nominal", "scale": {"domain": ["big","small"], "range": [68, 52]}, "legend": null}}},
    {"data": {"values": [{"x":1484,"y":32.4,"x2":1509,"y2":26.1,"d":"dotted"}]},
     "mark": {"type": "rule", "color": "black", "strokeWidth": 3},
     "encoding": {"x": {"field": "x", "type": "quantitative", "axis": null}, "y": {"field": "y", "type": "quantitative", "axis": null}, "x2": {"field": "x2"}, "y2": {"field": "y2"},
      "strokeDash": {"field": "d", "type": "nominal", "scale": {"domain": ["solid","dotted"], "range": [[1,0],[4,5]]}, "legend": null}}}
   ], "resolve": {"axis": {"x": "independent", "y": "independent"}}}
],
"columns": 3,
"spacing": {"row": 216, "column": 222},
"bounds": "flush",
"resolve": {"scale": {"color": "independent"}, "legend": {"color": "independent"}}
}
